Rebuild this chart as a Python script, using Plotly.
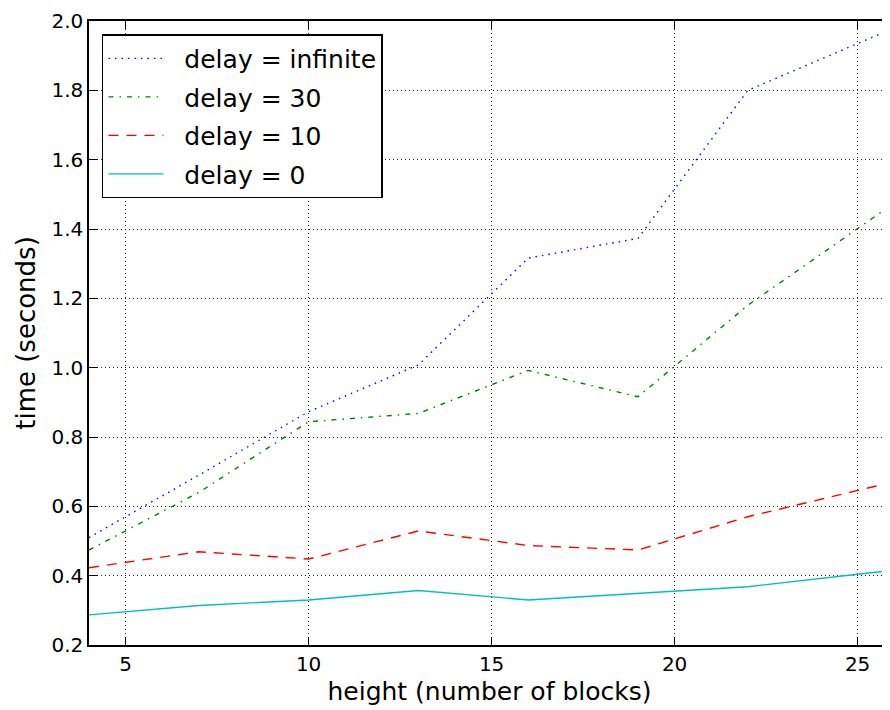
import plotly.graph_objects as go

# Data
heights = [4, 7, 10, 13, 16, 19, 22, 25, 26]
delay_infinite = [0.51, 0.69, 0.873, 1.008, 1.316, 1.373, 1.80, 1.936, 1.98]
delay_30 = [0.474, 0.64, 0.844, 0.868, 0.992, 0.916, 1.18, 1.40, 1.475]
delay_10 = [0.423, 0.469, 0.448, 0.529, 0.487, 0.474, 0.57, 0.644, 0.671]
delay_0 = [0.287, 0.314, 0.330, 0.357, 0.330, 0.349, 0.368, 0.404, 0.416]

series_names = ["delay = infinite", "delay = 30", "delay = 10", "delay = 0"]
series_values = [delay_infinite, delay_30, delay_10, delay_0]

x_ticks = [5, 10, 15, 20, 25]
y_ticks = [0.2, 0.4, 0.6, 0.8, 1.0, 1.2, 1.4, 1.6, 1.8, 2.0]

styles = [
    dict(color="#0000ff", dash="1.5px,5px", width=1.4),
    dict(color="#008000", dash="5px,6px,1.5px,6px", width=1.4),
    dict(color="#ff0000", dash="10px,8px", width=1.4),
    dict(color="#00bfbf", dash="solid", width=1.4),
]

FONT = "DejaVu Sans"
PAD = "\u00a0\u00a0"

fig = go.Figure()
for i, (name, vals) in enumerate(zip(series_names, series_values)):
    fig.add_trace(go.Scatter(
        x=heights, y=vals, mode="lines", name=PAD + name,
        line=styles[i], legendgroup=f"g{i}",
    ))

axis_common = dict(
    showline=True, linecolor="black", linewidth=1.5,
    ticks="inside", ticklen=8, tickwidth=1, tickcolor="black",
    showgrid=True, gridcolor="#222222", gridwidth=1, griddash="1px,3px",
    zeroline=False, automargin=False,
    tickfont=dict(family=FONT, size=20, color="black"),
)

# the page has an 8px body margin, so the figure is sized to fit the window
fig.update_layout(
    width=882, height=702,
    margin=dict(l=81, r=0, t=13, b=65),
    paper_bgcolor="white", plot_bgcolor="white",
    font=dict(family=FONT, color="black"),
    showlegend=True,
    legend=dict(
        x=0.0162, y=0.979, xanchor="left", yanchor="top",
        bgcolor="white", bordercolor="black", borderwidth=1.5,
        font=dict(family=FONT, size=25, color="black"),
        tracegroupgap=3, itemwidth=55,
    ),
    xaxis=dict(
        axis_common, range=[4, 25.885], tickvals=x_ticks,
        ticktext=[str(v) for v in x_ticks], mirror="ticks",
        title=dict(text="height (number of blocks)",
                   font=dict(family=FONT, size=25, color="black"), standoff=8),
    ),
    yaxis=dict(
        axis_common, range=[0.2, 2.0], tickvals=y_ticks,
        ticktext=[f"{v:.1f}" for v in y_ticks],
        title=dict(text="time (seconds)",
                   font=dict(family=FONT, size=26, color="black"), standoff=8),
    ),
)

fig.write_html("out.html")
